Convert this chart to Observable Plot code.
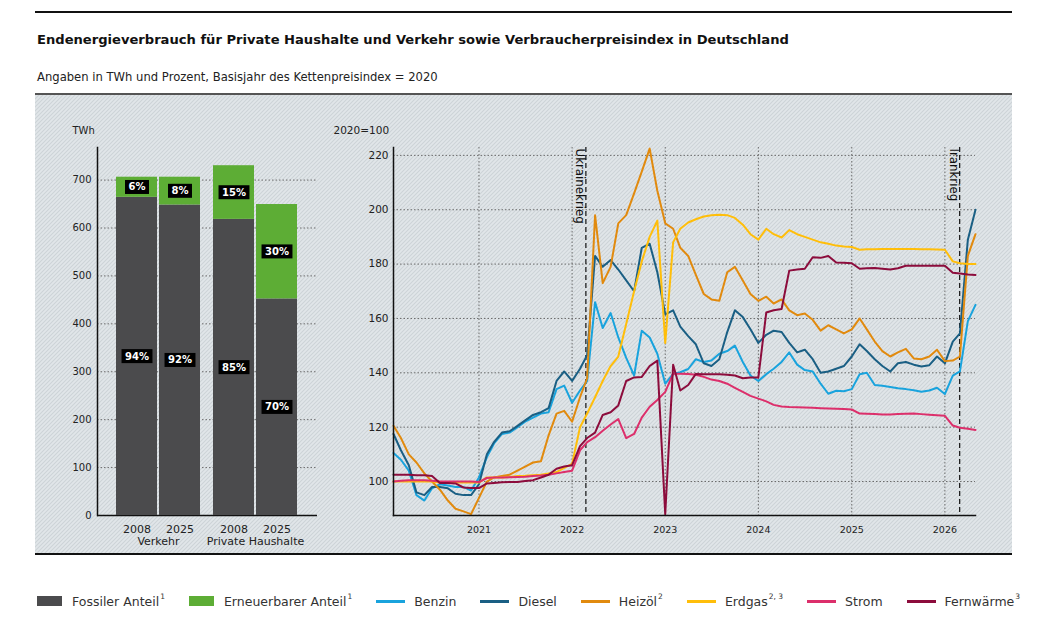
<!DOCTYPE html>
<html>
<head>
<meta charset="utf-8">
<script src="https://cdn.jsdelivr.net/npm/d3@7"></script>
<script src="https://cdn.jsdelivr.net/npm/@observablehq/plot@0.6"></script>
<style>
html,body{margin:0;padding:0;background:#fff;}
#wrap{position:relative;width:1060px;height:620px;overflow:hidden;font-family:"DejaVu Sans",sans-serif;}
#rule{position:absolute;left:35px;top:11px;width:977px;height:2px;background:#111;}
#title{position:absolute;left:37px;top:32px;font-size:13.1px;line-height:16px;font-weight:700;color:#111;white-space:nowrap;}
#subtitle{position:absolute;left:37px;top:70px;font-size:11.6px;line-height:14px;color:#222;white-space:nowrap;}
#panel{position:absolute;left:35px;top:93px;width:977px;height:462px;box-sizing:border-box;border-top:2px solid #555;border-bottom:2px solid #111;
  background-color:#e1e6e9;
  background-image:url("data:image/svg+xml,%3Csvg xmlns='http://www.w3.org/2000/svg' width='4' height='4'%3E%3Cpath d='M-1,1 l2,-2 M0,4 l4,-4 M3,5 l2,-2' stroke='%23cdd3d7' stroke-width='1.1'/%3E%3C/svg%3E");}
#barsGrid,#bars{position:absolute;left:35px;top:123px;}
#lines{position:absolute;left:330px;top:123px;}
#legend{position:absolute;left:37px;top:592px;height:18px;display:flex;align-items:center;font-size:12.5px;color:#333;white-space:nowrap;}
.item{display:flex;align-items:center;margin-right:24px;}
.sw-rect{width:25px;height:10px;margin-right:10px;}
.sw-line{width:29px;height:3px;margin-right:9px;}
.item sup{font-size:7.5px;line-height:0;position:relative;top:-1px;margin-left:1px;}
</style>
</head>
<body>
<div id="wrap">
  <div id="rule"></div>
  <div id="title">Endenergieverbrauch für Private Haushalte und Verkehr sowie Verbraucherpreisindex in Deutschland</div>
  <div id="subtitle">Angaben in TWh und Prozent, Basisjahr des Kettenpreisindex = 2020</div>
  <div id="panel"></div>
  <div id="barsGrid"></div>
  <div id="bars"></div>
  <div id="lines"></div>
  <div id="legend"></div>
</div>
<script>
// ---------- Bar chart data (TWh) ----------
const barGroups = ["Verkehr", "Verkehr", "Private Haushalte", "Private Haushalte"];
const barYears = ["2008", "2025", "2008", "2025"];
const fossilTWh = [664, 648, 618, 452];
const renewableTWh = [42, 58, 112, 197];
const fossilShare = [94, 92, 85, 70];
const renewableShare = [6, 8, 15, 30];
const barTicks = [0, 100, 200, 300, 400, 500, 600, 700];
const typeNames = ["Fossiler Anteil", "Erneuerbarer Anteil"];
const typeColors = ["#4b4b4d", "#5dad35"];

// ---------- Price index data (2020 = 100), monthly from Jan 2020 ----------
const firstMonth = "2020-01-01";
const benzin = [110.5,108,104,95,93,97.5,99,98.5,98,98,
  96.7,101.5,109,114,117.5,118,120,122,123.5,125,
  125.5,134,135.3,129,133.5,137,166,156.5,162,153,
  145.5,139,155.5,153,147,136,139.6,140.2,141.4,145,
  144,144.5,147,148,150,144,139,137,139.5,141.5,
  144,147.5,143,141,140.5,136,132.3,133.4,133.2,134,
  139.5,140,135.5,135.2,134.8,134.3,134,133.6,133,133.5,
  134.5,132.2,139,140.5,159,165];
const diesel = [117.5,111.5,106,96,95,98,98,97.5,95.5,95,
  95,99,110,114.5,118,118.5,120.5,122.5,124.5,125.5,
  127,137,140.5,137,141.5,146.5,183,179,181.5,178,
  174,170,186,187.5,177,161.5,163,157,153.5,150.5,
  143.5,142.5,145,155,163,160.5,156,151,154,155.5,
  155,151,147.5,148.5,145,140,140.5,141.5,142.5,146,
  150.5,148,145,142.5,140.5,143.5,144,143,142.3,142.8,
  146,143.5,151.5,154.5,189,200];
const heizoel = [120.5,116,110,107,103,100,97,93,90,89,
  88,94,100,101.5,102,102.5,104,105.5,107,107.5,
  117,125,126,122,131,138,198,173,179,195,
  198,206,214,222.5,207,195,193,186,183,176,
  169,167,166.5,177,179,174,169,166.5,168,165.5,
  167,163,161.2,161.8,159.5,155.5,157.5,156,154.5,156,
  160,156,151.5,148,146,147.5,148.8,145.3,145,146,
  148.5,144.3,144.5,146,183,191];
const erdgas = [100,100,100,100,100,100,99.6,99.6,99.6,99.6,
  99.6,99.6,101.5,101.5,101.5,101.7,102,102.1,102.3,102.5,
  103,103.5,105,106.5,120,125,131,137,142.5,146,
  158,170,181,190,196,151,188,193,195.3,196.5,
  197.5,198,198.2,198,197,194.5,191,189,193,191,
  189.8,192.5,191,190,189,188,187.5,186.8,186.5,186.3,
  185.3,185.5,185.5,185.6,185.6,185.6,185.6,185.6,185.5,185.5,
  185.4,185.3,181,180.3,180,180];
const strom = [100,100.3,100.5,100.5,100.5,100.3,100,100,100,100,
  100,99.8,101.3,101.5,101.5,101.6,101.7,101.8,102,102.2,
  102.5,103,103.5,104,111.5,114.5,116.3,118.7,121,123,
  116,117.5,123.5,127.5,130,133,139.7,139.7,139.6,139.3,
  138.5,137.5,137,136,134.5,133,131.5,130.5,129.5,128.2,
  127.6,127.4,127.3,127.2,127.1,127,126.9,126.8,126.7,126.5,
  125,124.9,124.8,124.7,124.7,124.8,124.9,125,124.8,124.6,
  124.4,124.2,120.6,119.8,119.4,119];
const fernwaerme = [102.5,102.5,102.5,102.3,102.3,102,99.5,99.5,99.3,97.8,
  97.6,97.6,99.3,99.5,99.7,99.8,99.8,100.2,100.5,101.5,
  102.5,104.7,105.5,106,113,116,118,124.5,125.5,128,
  137,138.3,138.5,142.5,144.5,88,143,133.5,135.5,139.6,
  139.5,139.5,139.5,139.3,139,138,138.3,138.3,162.2,163,
  163.5,177.6,178,178.3,182.5,182.3,183,180.6,180.5,180.3,
  178.3,178.5,178.6,178.3,178,178.5,179.4,179.4,179.4,179.4,
  179.4,179.4,176.8,176.5,176.2,176];
const seriesNames = ["Benzin", "Diesel", "Heizöl", "Erdgas", "Strom", "Fernwärme"];
const seriesSup = ["", "", "2", "2, 3", "", "3"];
const seriesColors = ["#19a3dd", "#1a5f84", "#e18a0e", "#ffbe0a", "#dc2f6b", "#8c0c3c"];
const seriesValues = [benzin, diesel, heizoel, erdgas, strom, fernwaerme];
const indexTicks = [100, 120, 140, 160, 180, 200, 220];
const yearTicks = ["2021-01-01","2022-01-01","2023-01-01","2024-01-01","2025-01-01","2026-01-01"];
const eventDates = ["2022-02-24", "2026-02-28"];
const eventLabels = ["Ukrainekrieg", "Irankrieg"];
const indexDomainX = ["2020-02-01", "2026-05-01"];
const indexDomainY = [87.5, 222.9];

// ---------- Build tables ----------
const barRows = barGroups.flatMap((g, i) => [
  {group: g, year: barYears[i], type: typeNames[0], value: fossilTWh[i], share: fossilShare[i]},
  {group: g, year: barYears[i], type: typeNames[1], value: renewableTWh[i], share: renewableShare[i]}
]);
const months = d3.utcMonth.range(new Date(firstMonth), d3.utcMonth.offset(new Date(firstMonth), benzin.length));
// each monthly value is drawn at the end of its reporting month
const lineRows = seriesNames.flatMap((name, s) =>
  seriesValues[s].map((v, i) => ({series: name, month: months[i], date: d3.utcMonth.offset(months[i], 1), value: v})));
const events = eventDates.map((d, i) => ({date: new Date(d), label: eventLabels[i]}));

const gridStyle = {stroke: "#6a6a6a", strokeOpacity: 1, strokeWidth: 1, strokeDasharray: "1.5,2"};
const baseStyle = {background: "transparent", fontFamily: "DejaVu Sans", fontSize: "10px", color: "#222", overflow: "visible"};
const barDims = {width: 295, height: 430, marginLeft: 62, marginRight: 13, marginTop: 24, marginBottom: 38};
const barY = {domain: [0, 768]};

// ---------- Bar chart: grid + y axis layer (shared y scale) ----------
const barGrid = Plot.plot({
  ...barDims, style: baseStyle, y: barY,
  marks: [
    Plot.gridY(barTicks.filter(d => d > 0), gridStyle),
    Plot.ruleY([0], {stroke: "#111", strokeWidth: 1.5}),
    Plot.frame({anchor: "left", stroke: "#111", strokeWidth: 1.5}),
    Plot.axisY({ticks: barTicks, tickSize: 0, tickPadding: 6, label: "TWh", labelAnchor: "top", labelArrow: "none", labelOffset: 25, fontSize: 10})
  ]
});
document.getElementById("barsGrid").appendChild(barGrid);

// ---------- Bar chart: bars ----------
const barPlot = Plot.plot({
  ...barDims, style: baseStyle, y: {...barY, axis: null},
  fx: {domain: ["Verkehr", "Private Haushalte"], paddingInner: 0.133, paddingOuter: 0.19},
  x: {domain: ["2008", "2025"], paddingInner: 0.05, paddingOuter: 0},
  color: {domain: typeNames, range: typeColors},
  marks: [
    Plot.barY(barRows, {fx: "group", x: "year", y: "value", fill: "type"}),
    Plot.text(barRows, Plot.stackY({fx: "group", x: "year", y: "value", text: d => d.share + "%", fill: "white", fontWeight: "bold", fontSize: 10})),
    Plot.axisX({tickSize: 0, tickPadding: 10, label: null, fontSize: 11}),
    Plot.axisFx({anchor: "bottom", tickSize: 0, tickPadding: 22, label: null, fontSize: 11})
  ]
});
document.getElementById("bars").appendChild(barPlot);
// black label boxes behind the percentage texts
barPlot.querySelectorAll('g[aria-label="text"] text').forEach(t => {
  const b = t.getBBox();
  const r = document.createElementNS("http://www.w3.org/2000/svg", "rect");
  r.setAttribute("x", b.x - 3.5);
  r.setAttribute("y", b.y - 1.5);
  r.setAttribute("width", b.width + 7);
  r.setAttribute("height", b.height + 3);
  r.setAttribute("fill", "#000");
  if (t.getAttribute("transform")) r.setAttribute("transform", t.getAttribute("transform"));
  t.parentNode.insertBefore(r, t);
});

// ---------- Line chart ----------
const linePlot = Plot.plot({
  width: 682, height: 430,
  marginLeft: 63, marginRight: 37, marginTop: 24, marginBottom: 38,
  style: baseStyle,
  x: {type: "utc", domain: indexDomainX.map(d => new Date(d))},
  y: {domain: indexDomainY},
  color: {domain: seriesNames, range: seriesColors},
  marks: [
    Plot.gridY(indexTicks, gridStyle),
    Plot.gridX(yearTicks.map(d => new Date(d)), gridStyle),
    Plot.ruleX(events, {x: "date", stroke: "#111", strokeWidth: 1.2, strokeDasharray: "5,3"}),
    Plot.text(events, {x: "date", text: "label", frameAnchor: "top", rotate: 90, textAnchor: "start", lineAnchor: "top", dx: -1.5, dy: 1, fontSize: 11.8, fill: "#111"}),
    Plot.lineY(lineRows, {x: "date", y: "value", z: "series", stroke: "series", strokeWidth: 2}),
    Plot.frame({anchor: "left", stroke: "#111", strokeWidth: 1.5}),
    Plot.frame({anchor: "bottom", stroke: "#111", strokeWidth: 1.5}),
    Plot.axisY({ticks: indexTicks, tickSize: 0, tickPadding: 5, label: "2020=100", labelAnchor: "top", labelArrow: "none", labelOffset: 60, fontSize: 10.5}),
    Plot.axisX({ticks: yearTicks.map(d => new Date(d)), tickSize: 0, tickPadding: 11, tickFormat: "%Y", label: null, fontSize: 9.5})
  ]
});
document.getElementById("lines").appendChild(linePlot);

// ---------- Legend ----------
const legend = document.getElementById("legend");
const legendEntries = [
  ...typeNames.map((n, i) => ({label: n, sup: "1", color: typeColors[i], kind: "rect"})),
  ...seriesNames.map((n, i) => ({label: n, sup: seriesSup[i], color: seriesColors[i], kind: "line"}))
];
legendEntries.forEach(e => {
  const item = document.createElement("div");
  item.className = "item";
  const sw = document.createElement("span");
  sw.className = e.kind === "rect" ? "sw-rect" : "sw-line";
  sw.style.background = e.color;
  item.appendChild(sw);
  const lab = document.createElement("span");
  lab.textContent = e.label;
  if (e.sup) {
    const s = document.createElement("sup");
    s.textContent = e.sup;
    lab.appendChild(s);
  }
  item.appendChild(lab);
  legend.appendChild(item);
});
</script>
</body>
</html>
